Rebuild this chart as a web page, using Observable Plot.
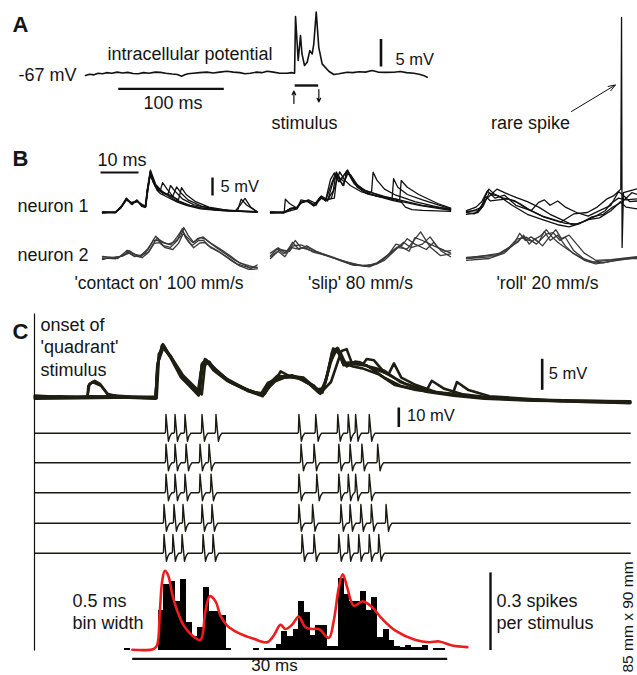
<!DOCTYPE html>
<html><head><meta charset="utf-8">
<script src="https://cdn.jsdelivr.net/npm/d3@7"></script>
<script src="https://cdn.jsdelivr.net/npm/@observablehq/plot@0.6"></script>
<style>body{margin:0;background:#fff}#chart svg{display:block;background:#fff}</style>
</head><body><div id="chart"></div>
<script>
// ================= DATA (ms, mV, spikes/stimulus) =================
const panelLetters = ["A", "B", "C"];
// Panel A: single intracellular trace [t ms, Vm mV]
const traceA = [0,-67.4, 4,-67.2, 8,-67.3, 12,-67.0, 16,-67.1, 20,-66.9, 25,-67.0, 30,-66.8, 35,-66.95, 40,-66.85, 45,-67.05, 50,-67.1, 55,-66.9, 60,-67.0, 66,-66.8, 71,-66.85, 76,-67.0, 82,-67.15, 87,-67.25, 91,-67.55, 94,-67.3, 97,-67.1, 102,-67.0, 108,-66.9, 115,-66.8, 121,-66.95, 127,-66.8, 134,-66.65, 140,-66.8, 146,-66.9, 151,-67.1, 156,-67.0, 162,-66.8, 167,-66.9, 172,-66.65, 178,-66.8, 184,-67.0, 191,-67.0, 195,-66.9, 198,-67.0, 198.9,-56.7, 201.4,-64.7, 203.6,-60.15, 205,-63.5, 207.4,-65.6, 209.9,-65, 212.4,-62.9, 214.7,-63.5, 216.2,-61.65, 218.5,-55.9, 220.9,-62.3, 224.1,-65.3, 230.4,-66.64, 235.1,-67.24, 240,-67.1, 247.8,-66.82, 253,-66.9, 259,-66.75, 265,-66.8, 271.5,-66.5, 277,-66.8, 284,-66.85, 292,-66.82, 298,-66.7, 304,-66.9, 310.9,-67.0, 316,-67.2, 320,-67.4, 323.6,-67.73];
const stimulusOnOffMs = [198.1, 220.3];

// Panel B: overlaid trials [t ms, dV mV]
const contactN1 = [
 [0,0, 3.4,0, 4.9,1.5, 6.3,3.8, 7.6,2.4, 9.1,3.3, 10.4,1.9, 11.3,1.5, 11.8,6.1, 12.6,11.5, 13.3,8.9, 14.4,6.1, 15.3,5.2, 17,4.3, 19.7,2.9, 22.3,1.9, 25.8,1.0, 30.2,0.6, 34.5,0.4, 40.7,0.1],
 [0,-0.2, 3.5,0.1, 5,1.8, 6.2,3.5, 7.5,2.8, 9.3,3.0, 10.5,2.2, 11.4,1.8, 11.9,6.5, 12.6,11.2, 13.3,8.5, 14.4,6.3, 15.2,6.0, 15.8,8.3, 17,6.5, 18.5,4.5, 20,3.2, 23,2, 27,1.1, 31,0.6, 35.5,0.4, 36.5,3.7, 38,2.0, 40.7,0.2],
 [0,0.1, 3.3,-0.1, 4.8,1.2, 6.4,3.6, 7.8,2.2, 9,3.5, 10.3,1.7, 11.2,1.4, 11.9,5.8, 12.6,10.8, 13.3,8.6, 14.4,6.5, 16,5.2, 17.2,5.0, 17.9,7.5, 19,6, 21,3.8, 24,2.2, 28,1.2, 33,0.5, 40.7,0.2],
 [0,0, 3.5,0.2, 5,1.6, 6.3,3.9, 7.7,2.5, 9.2,3.1, 10.4,2.0, 11.3,1.7, 11.8,6.3, 12.7,11, 14,7.5, 16,5.5, 18.5,4.5, 19.5,7.1, 20.6,5.5, 22.5,3.5, 26,1.8, 30,0.9, 35,0.5, 36.2,2, 37.5,3.9, 39,1.5, 40.7,0.2],
 [0,0.2, 3.4,0, 4.9,1.4, 6.2,3.7, 7.6,2.6, 9.1,3.4, 10.4,1.8, 11.4,1.6, 11.9,6.0, 12.5,10.5, 14,7.0, 17,5, 20,3.6, 20.8,6.9, 22,5.0, 24.5,3, 28,1.5, 33,0.6, 40.7,0.2],
 [0,0, 3.4,0.1, 4.9,1.7, 6.3,4.0, 7.6,2.3, 9.1,3.2, 10.4,2.0, 11.3,1.5, 11.7,6.0, 12.6,11.8, 14,7.8, 16,5.5, 19,3.5, 22,2.2, 26,1.2, 31,0.6, 40.7,0.1]
];
const contactN2 = [
 [0,0.2, 3.4,-0.1, 6.8,1.75, 8.2,0.8, 10,0.4, 11.8,2.2, 13.4,5, 14.7,5, 16,3.6, 17.9,3.1, 19.7,5, 21,8.3, 21.8,5.9, 23.6,3.6, 25.3,5, 26.6,5, 27.9,3.6, 30.2,2.2, 32.8,0.4, 35.4,-1.5, 38.1,-2.4, 40.7,-2.4],
 [0,-0.3, 2,0.3, 4,0, 6.5,2.3, 8,1.3, 10,0.8, 12,2.8, 13,4.5, 14,6.2, 15,5.2, 16.2,4.4, 18,3.8, 19.5,5.8, 20.8,7.8, 22,6.2, 23.8,4.4, 25,5.5, 26.5,6, 28,4.6, 30,3, 32.5,1.2, 35,-0.6, 37.5,-1.8, 39,-2.8, 40.7,-1.8],
 [0,0.6, 2.5,0.3, 5,0.6, 7,1.5, 8.5,0.5, 10.5,1, 12.2,1.8, 13.6,4.2, 15,4.4, 16.5,3, 18.5,2.5, 20,4.2, 21.3,7, 22.5,4.8, 24,3, 25.6,4.3, 27,4.4, 28.5,3, 31,1.6, 33.5,-0.3, 36,-2, 38.5,-3, 40.7,-2.9],
 [0,0, 3,0.2, 5.5,0.8, 7,2.2, 8.7,1.0, 10.4,0.2, 12,1.6, 13.2,3.8, 14.3,5.6, 15.6,4.5, 17.3,4, 19,4.6, 20.6,6.2, 21.4,8.6, 22.5,6.5, 24,4.5, 25.8,5.8, 27.2,5.3, 28.6,4.2, 31,2.6, 33.5,0.8, 36,-1.2, 38.5,-2, 40.7,-2.6]
];
const slipN1 = [
 [0,0, 3.5,0, 5.3,1.1, 7,1.4, 7.9,2.8, 9.7,3.3, 11.4,1.9, 13.2,4.3, 14.5,3.3, 16.2,8.4, 17.1,10.8, 18.4,8.9, 20.2,11.7, 21,10.3, 22.8,7, 25.4,5.2, 29.8,4.2, 34.2,3.1, 39.5,1.9, 47.4,0.6],
 [0,0.2, 3.5,0, 5.3,1.2, 7,1.2, 7.9,2.6, 9.7,3.4, 11.4,2.1, 13.2,4.2, 14.5,3.5, 16.8,4, 17.5,10.3, 18.5,8.5, 19.3,7.5, 20,11.5, 21,10.5, 23,7.5, 26,5.3, 26.6,5.8, 27,11.2, 28,9, 30,6.5, 33,4.8, 38,3, 43,1.8, 47.4,0.8],
 [0,-0.2, 3.5,0.1, 5.5,1, 7,1.5, 8,2.9, 9.7,3.1, 11.4,2, 13.2,4.4, 14.5,3.2, 16,4, 17.2,8, 18.2,11.3, 19.5,9, 21,7.5, 24,5.7, 28,4.5, 32,3.8, 32.4,9.4, 33.5,7, 36,5, 40,3.5, 47.4,1],
 [0,0, 3.5,-0.1, 5.3,1.1, 7,1.3, 7.9,2.7, 9.7,3.2, 11.4,1.8, 13.2,4.1, 14.5,3.4, 15.8,9.2, 16.8,11, 18,8.5, 20.3,11.8, 21.5,9, 24,6.5, 30,4.2, 34,3.5, 34.4,8.9, 36,7, 39,5, 44,2.5, 47.4,1.2],
 [0,0, 3.6,0, 3.9,3.7, 5,2.5, 7,1.2, 7.9,2.5, 10,3.5, 12,2.5, 13.5,4, 15,3.2, 16.6,9, 17.5,10.5, 19,7.5, 20.4,11, 22,8, 25,5.5, 29,4.3, 32,3.4, 34.5,2.8, 35.5,1.5, 37.2,0.8, 40,0.6, 47.4,0.3],
 [0,0.1, 3.5,0, 7,1, 8,3.5, 10,3, 12,2, 13.4,4.6, 15,3.5, 16.5,6, 17.3,11.3, 18.3,9.5, 19.5,8.5, 20,10.8, 21,10.5, 22.5,8, 25,6, 30,4.5, 35,3.2, 40,2, 47.4,0.9]
];
const slipN2 = [
 [0,0.8, 1.8,2.7, 3.5,1.3, 5.3,3.1, 7,2.7, 8.8,3.1, 11.4,1.7, 15,0.8, 18.4,-0.6, 22,-1.9, 25.4,-1.9, 28,-1.5, 30.7,0.8, 33.3,3.1, 36,2.7, 39.5,7.4, 42.1,3.1, 44.7,0.8, 47.4,1.3],
 [0,1.5, 2,3, 4,1.5, 5.8,4.5, 7.5,2.5, 9.5,3.5, 12,2, 16,0.5, 20,-1, 24,-2, 27,-1.8, 30,-0.5, 33,2.5, 35,4.5, 37,3, 40,4, 42,6, 44,3, 46,2, 47.4,2.2],
 [0,0, 2,2, 3.8,0.5, 5,2.5, 6.5,5, 8,3, 10,2.5, 13,1.5, 17,0, 21,-1.6, 25,-2.2, 28,-1.2, 31,1, 33,4, 34.5,3.5, 36,5.5, 38,4, 41,2.5, 43,4.5, 45,2, 47.4,0.5],
 [0,0.5, 2.5,2.5, 5,2, 6,3.5, 8,3.8, 11,2.5, 14,1, 18,-0.3, 22,-1.5, 26,-2.3, 29,-1, 32,2, 34,3.5, 36.5,2, 38,5.8, 40,5, 43,3.5, 47.4,1.5]
];
const rollN1 = [
 [0,0, 2,-0.4, 3.7,1, 5,4.7, 5.9,6.5, 7.2,5.2, 9,4.2, 12.6,3.3, 16,1, 20.4,-1.3, 24.7,-2.7, 28.2,-0.4, 31.8,0, 34.4,1.5, 37,3.8, 38.8,4.7, 40.6,6.5, 40.8,54.2, 40.95,-9.7, 41.3,5.5, 43.2,6.1, 45,6.6],
 [0,0.5, 2.5,1.5, 4,3, 5.5,6, 6.5,5, 8,6.5, 10,5.5, 13,4.2, 16,3, 19,1.5, 22,-0.5, 25,-2, 28,-3.5, 31,-2.5, 34,-1, 36.5,0.5, 38,2.5, 40,4, 42,3.5, 45,3.8],
 [0,-0.5, 3,0, 4.5,2, 6,5.5, 7.5,4, 10,4.8, 13,2, 17,0.5, 19,2.8, 20.5,3.5, 22,2, 24,3.2, 26,1.5, 29,0, 32,-1, 35,0.5, 38,2, 40,5.8, 41.5,4.5, 43,3, 45,3.2],
 [0,0, 2.5,0.8, 4.2,1.5, 5,4.5, 6.3,3.2, 8.5,3.5, 11,3.8, 14,2.5, 17,0.5, 20,-1, 23,-2, 26,-3, 29,-3.2, 32,-2, 35,-1.5, 38,0.5, 40.5,3, 42,1.5, 45,1],
 [0,0.3, 3,0.5, 5,3.5, 6.5,5, 8.5,4.6, 12,2, 16,-0.5, 20,-2, 24,-3.4, 27,-4, 30,-3, 33,-1.2, 36,-0.5, 38.5,1.5, 41,3, 43.5,5.5, 45,5]
];
const rollN2 = [
 [0,0, 7,0.5, 10.5,2.2, 13.2,5.4, 15.8,5.9, 18.4,4, 21,6.8, 22.8,7.2, 24.6,5, 26,5.9, 28.2,2.2, 30.8,0, 33.5,-1, 37,-0.5, 42.3,0, 45,0],
 [0,-0.5, 6,0, 10,1.5, 12.5,4, 14,7, 15.5,5, 17,6, 19,4.5, 20.5,7.5, 22,5, 24,6.5, 26,3.5, 28,1.5, 31,-0.5, 34,-1.5, 38,-0.8, 45,0.3],
 [0,0.3, 8,1, 11,3, 13.5,4.5, 15,6.5, 16.5,4, 18,5.5, 20,3.5, 21.5,5.5, 23.5,8, 25,5.5, 27,6.5, 29,4, 31,1.5, 34,-0.5, 38,-0.3, 45,0.5],
 [0,0, 9,1.5, 12,3.5, 14.5,5.8, 17,4.8, 19.5,6.3, 21,8, 22.5,6, 24,4.5, 26,3, 28.5,1.2, 32,-0.8, 36,-1.2, 40,-0.3, 45,0.2]
];
const stimulusLabels = ["'contact on' 100 mm/s", "'slip' 80 mm/s", "'roll' 20 mm/s"];

// Panel C: 'quadrant' stimulus, overlaid Vm trials [t ms from onset, dV mV]
const quadrantVm = [
 [-9.3,0, -7,0.2, -4.3,0, -4.2,1.9, -3.8,2.5, -3,1.9, -2.4,0.6, -1,0, 2.2,-0.2, 2.35,4.9, 2.8,8.4, 3.6,6.5, 4.6,3.3, 5.5,1.7, 6.3,0.3, 6.6,5.4, 7,6, 7.7,4.4, 9,2.7, 10.9,1.1, 12.4,0.2, 12.8,1.9, 13.8,3.5, 15,3.3, 16,3, 17.3,1.9, 17.9,0.6, 18.5,3.3, 19.2,7.6, 19.6,7.9, 20.1,5.2, 21.4,5.4, 22.3,5.2, 23.9,3.3, 25.5,1.9, 28.1,0.9, 30.6,0.3, 33.5,-0.2, 38.2,-0.5, 42,-0.6, 47.4,-0.8],
 [-9.3,0.3, -6,0, -2,0.2, 2.2,0, 2.4,5.5, 2.9,8.6, 3.8,6.0, 4.8,3, 5.8,1.5, 6.2,0.6, 6.5,4, 6.9,6.2, 7.6,5, 9.2,2.6, 11,1.2, 12.2,0.5, 12.9,2.4, 13.6,2.8, 14.1,4.2, 14.9,3.5, 16.3,3.2, 17.4,1.6, 18.1,0.8, 18.6,4, 19.1,7.9, 19.8,7.3, 20.4,5, 21.2,5.8, 22,5.5, 22.3,6.2, 23,6, 24,4, 26,2.2, 28,1.0, 31,0.4, 34,-0.1, 40,-0.5, 47.4,-0.6],
 [-9.3,-0.2, -5,-0.1, 0,0, 2.3,-0.1, 2.5,6, 3,8.3, 3.9,5.8, 5,2.8, 6.1,1, 6.6,0.5, 6.9,5.2, 7.3,5.8, 8,4.1, 9.5,2.3, 11.5,0.9, 12.6,0.6, 13.2,2.6, 14.3,3.3, 15.5,3.4, 16.6,2.6, 17.5,1.3, 18.2,1.5, 18.8,5.5, 19.4,7.6, 20.3,5.6, 21.6,5.7, 22.8,4.7, 24.4,3.8, 24.9,5.5, 25.6,3.2, 27,2, 29,0.8, 32,0.2, 36,-0.3, 43,-0.7, 47.4,-0.8],
 [-9.3,0, -4,0.2, 2.2,0, 2.5,7, 2.9,8.1, 3.7,6.5, 4.8,3.6, 6,1.6, 6.4,0.8, 6.7,5.6, 7.1,5.9, 7.9,4.6, 9.3,2.5, 11.2,1, 12.5,0.4, 13,1.6, 13.7,3.2, 15.2,3.6, 16.2,2.8, 17.5,1.5, 18,0.9, 18.9,2.5, 19.9,7.5, 20.4,7.8, 20.9,5.5, 22,5.2, 23,4.8, 24,4.3, 25.5,2.5, 28,1.1, 28.5,2.7, 29.7,1.4, 31.5,0.5, 35,-0.2, 40,-0.4, 47.4,-0.7],
 [-9.3,0.2, -4.3,0, -4.1,2.2, -3.6,2.7, -3.1,2.2, -2.3,0.4, 0,0.1, 2.2,0.1, 2.4,5.3, 2.8,8.2, 3.6,6.8, 4.6,3.5, 5.6,1.9, 6.3,0.5, 6.6,5.2, 7.0,6.1, 7.7,4.6, 9,3, 11,1.2, 12.4,0.5, 12.9,1.5, 13.6,2.6, 14.5,3.2, 15.6,3.3, 16.8,2.2, 17.8,0.7, 18.4,2.5, 19,7.3, 19.5,8, 20,5.6, 21,5.0, 21.9,4.7, 23.5,3.7, 25,2.0, 27,1.2, 30.5,0.6, 30.9,2.5, 32,1.2, 34,0.2, 40,-0.5, 47.4,-0.9]
];
const recordingWindowMs = [-9.3, 47.4];
// extracellular spike waveform [dt ms, mV] and spike times per trial (ms)
const spikeWaveform = [-0.08,0, 0,0.5, 0.05,9.6, 0.22,-0.5, 0.28,-4.1, 0.42,-1.6, 0.6,0];
const spikeTimes = [
 [3.14, 4.0, 4.95, 6.57, 7.9, 15.8, 17.4, 19.5, 20.5, 21.2, 22.5],
 [3.14, 4.0, 5.05, 6.38, 7.24, 16.0, 17.24, 19.6, 20.67, 21.8, 23.3],
 [3.14, 4.0, 4.95, 6.38, 7.43, 15.8, 17.5, 19.6, 20.5, 21.2, 22.5],
 [2.95, 3.9, 4.76, 6.57, 7.52, 15.8, 17.1, 19.8, 20.67, 21.7, 22.7, 24.1],
 [2.95, 3.8, 4.67, 6.67, 7.62, 16.1, 17.24, 19.6, 20.5, 21.5, 22.5, 23.4]
];
// PSTH: 0.5 ms bins starting at -0.5 ms (spikes per stimulus)
const psthStartMs = -0.5, psthBinMs = 0.5;
const psthCounts = [0.006, 0,0,0,0,0, 0.155,0.255,0.265,0.19,0.275,0.11,0.055,0.087,0.243,0.15,0.15,0.135,0.006,0,0,0,0,0.006,0,0.006,0.006,0.023,0.073,0.055,0.081,0.19,0.147,0.058,0.097,0.097,0.016,0.016,0.28,0.217,0.19,0.19,0.228,0.155,0.205,0.05,0.082,0.04,0.016,0.013,0.02,0.01,0.01,0.02,0,0.006,0.006];
const psthSmooth = [0.2,0.003, 2.1,0.006, 2.4,0.02, 2.65,0.154, 2.86,0.27, 3.09,0.308, 3.39,0.29, 3.75,0.218, 4.19,0.154, 4.78,0.096, 5.52,0.058, 6.26,0.041, 6.71,0.154, 7.09,0.21, 7.6,0.19, 8.04,0.135, 8.64,0.096, 9.53,0.07, 11,0.045, 12.2,0.032, 12.78,0.058, 13.38,0.099, 13.83,0.083, 14.42,0.1, 15.0,0.131, 15.6,0.09, 16.2,0.083, 16.79,0.083, 17.68,0.049, 18.12,0.115, 18.57,0.243, 18.92,0.295, 19.32,0.243, 19.9,0.173, 20.7,0.19, 21.54,0.167, 22.43,0.122, 23.6,0.077, 25.4,0.041, 26.6,0.032, 27.5,0.035, 28.66,0.019, 30,0.013];

// scale bar values
const scaleA = {ms:100, mV:5}, scaleB = {ms:10, mV:5}, scaleC = {ms:30, mV:5, spikeMV:10, rate:0.3};

// ================= LAYOUT =================
const W = 637, H = 675;
const FONT = "'Liberation Sans', Arial, Helvetica, sans-serif";
const fA = {x0:85, px:1.056, y0:72.7, py:5.5, ref:-67};
const fB = (x0, y0) => ({x0, px:3.8, y0, py:3.6, ref:0});
const fC = {x0:132, px:10.5, y0:397, py:6.2, ref:0};
const fS = y0 => ({x0:132, px:10.5, y0, py:1.95, ref:0});
const fH = {x0:129.6, px:11.24, y0:650, py:258.7, ref:0};
const X = (f,t) => f.x0 + f.px*t, Y = (f,v) => f.y0 - f.py*(v - f.ref);
function pairs(a){const o=[];for(let i=0;i<a.length;i+=2)o.push([a[i],a[i+1]]);return o;}
function place(arr, f, id){return (Array.isArray(arr[0])?arr:pairs(arr)).map(([t,v])=>({x:X(f,t), y:Y(f,v), id}));}

const lineA = place(traceA, fA, "A");
const group = (trials, f, tag) => trials.flatMap((tr,i)=>place(tr, f, tag+i));
const bN1 = [...group(contactN1, fB(102,212), "c1"), ...group(slipN1, fB(270,212), "s1"), ...group(rollN1, fB(466,212), "r1")];
const bN2 = [...group(contactN2, fB(102,258), "c2"), ...group(slipN2, fB(270,258), "s2"), ...group(rollN2, fB(466,258), "r2")];
const cVm = group(quadrantVm, fC, "q");
const wf = pairs(spikeWaveform);
const rowY = [432.7, 462.3, 492.3, 522.7, 552.7];
const cSpk = spikeTimes.flatMap((times, r) => {
  const pts = [[recordingWindowMs[0],0]];
  for (const s of times) for (const [dt,v] of wf) pts.push([s+dt, v]);
  pts.push([recordingWindowMs[1],0]);
  return place(pts, fS(rowY[r]), "sp"+r);
});
const bars = psthCounts.map((c,i)=>{const t=psthStartMs+i*psthBinMs;return {x1:X(fH,t), x2:X(fH,t+psthBinMs)+0.4, y1:fH.y0, y2:Y(fH,c)};}).filter(d=>d.y1-d.y2>0.1);
const redLine = place(psthSmooth, fH, "psth");

// scale bars
const segs = [
  {x1:117.7, x2:117.7+scaleA.ms*fA.px, y1:88.3, y2:88.3, w:2.2},
  {x1:380.5, x2:380.5, y1:66, y2:66-scaleA.mV*fA.py, w:2.6},
  {x1:X(fA,stimulusOnOffMs[0]), x2:X(fA,stimulusOnOffMs[1]), y1:85, y2:85, w:2.4},
  {x1:100, x2:100+scaleB.ms*3.8, y1:172, y2:172, w:2.2},
  {x1:212, x2:212, y1:195, y2:195-scaleB.mV*3.6, w:2.4},
  {x1:541.7, x2:541.7, y1:389.3, y2:389.3-scaleC.mV*fC.py, w:2.6},
  {x1:398.3, x2:398.3, y1:426.5, y2:426.5-scaleC.spikeMV*1.95, w:2.6},
  {x1:131.7, x2:131.7+scaleC.ms*fC.px, y1:658.3, y2:658.3, w:2.2},
  {x1:490, x2:490, y1:649.5, y2:649.5-scaleC.rate*fH.py, w:2.4},
  {x1:34, x2:34, y1:313, y2:650, w:1.2}
];
const arrows = [
  {x1:X(fA,stimulusOnOffMs[0])-0.8, y1:103, x2:X(fA,stimulusOnOffMs[0])-0.8, y2:90.5},
  {x1:X(fA,stimulusOnOffMs[1])+0.7, y1:89, x2:X(fA,stimulusOnOffMs[1])+0.7, y2:101.5}
];
const spikeArrow = [{x1:571, y1:111, x2:X(fB(466,212),40.75)-6, y2:84.5}];

const txt18 = [
  {x:107, y:59, t:"intracellular potential", a:"start"},
  {x:18, y:80, t:"-67 mV", a:"start"},
  {x:172.5, y:108, t:"100 ms", a:"middle"},
  {x:304, y:128, t:"stimulus", a:"middle"},
  {x:530, y:128, t:"rare spike", a:"middle"},
  {x:97, y:165, t:"10 ms", a:"start"},
  {x:17, y:211, t:"neuron 1", a:"start"},
  {x:17, y:260.5, t:"neuron 2", a:"start"},
  {x:72, y:606.7, t:"0.5 ms", a:"start"},
  {x:72, y:628, t:"bin width", a:"start"},
  {x:496, y:606.7, t:"0.3 spikes", a:"start"},
  {x:496, y:628, t:"per stimulus", a:"start"}
];
const txt17 = [
  {x:395, y:64, t:"5 mV"}, {x:220, y:191.7, t:"5 mV"}, {x:548.3, y:378.3, t:"5 mV"}, {x:406.5, y:420.7, t:"10 mV"}
];
const captions = stimulusLabels.map((t,i)=>({x:[158.5, 360, 547][i], y:288, t}));
const letters = panelLetters.map((t,i)=>({x:12, y:[31.5, 165, 338.5][i], t}));

const T = (data, o) => Plot.text(data, {x:"x", y:"y", text:"t", fontFamily:FONT, fill:"#151515", lineAnchor:"bottom", ...o});

const chart = Plot.plot({
  width: W, height: H, margin: 0,
  x: {domain:[0,W], range:[0,W], axis:null},
  y: {domain:[0,H], range:[0,H], axis:null},
  style: {background:"#fff", fontFamily: FONT},
  marks: [
    Plot.rect(bars, {x1:"x1", x2:"x2", y1:"y1", y2:"y2", fill:"#000", inset:0, shapeRendering:"crispEdges"}),
    Plot.line(redLine, {x:"x", y:"y", z:"id", stroke:"#ee1c1c", strokeWidth:2.6, curve:"catmull-rom"}),
    Plot.line(lineA, {x:"x", y:"y", z:"id", stroke:"#111", strokeWidth:1.6, strokeLinejoin:"round"}),
    Plot.line(bN2, {x:"x", y:"y", z:"id", stroke:"#3a3a3a", strokeWidth:1.3, strokeLinejoin:"round"}),
    Plot.line(bN1, {x:"x", y:"y", z:"id", stroke:"#111", strokeWidth:1.3, strokeLinejoin:"round"}),
    Plot.line(cVm, {x:"x", y:"y", z:"id", stroke:"#1e1e12", strokeWidth:2.6, strokeLinejoin:"round"}),
    Plot.line(cSpk, {x:"x", y:"y", z:"id", stroke:"#1a1a12", strokeWidth:1.4, strokeLinejoin:"round"}),
    Plot.link(segs, {x1:"x1", x2:"x2", y1:"y1", y2:"y2", stroke:"#111", strokeWidth:d=>d.w}),
    Plot.arrow(arrows, {x1:"x1", y1:"y1", x2:"x2", y2:"y2", stroke:"#111", strokeWidth:1.2, headLength:6, headAngle:50}),
    Plot.arrow(spikeArrow, {x1:"x1", y1:"y1", x2:"x2", y2:"y2", stroke:"#111", strokeWidth:1, headLength:11, headAngle:40}),
    T(txt18, {fontSize:18, textAnchor:"start", filter:d=>d.a==="start"}),
    T(txt18, {fontSize:18, textAnchor:"middle", filter:d=>d.a==="middle"}),
    T([{x:274, y:670.5, t:"30 ms"}], {fontSize:17, textAnchor:"middle"}),
    T(txt17, {fontSize:16.5, textAnchor:"start"}),
    T(captions, {fontSize:17.5, textAnchor:"middle"}),
    T(letters, {fontSize:22, fontWeight:"bold", textAnchor:"start"}),
    T([{x:40, y:375, t:"onset of\n'quadrant'\nstimulus"}], {fontSize:18, textAnchor:"start", lineHeight:1.25}),
    T([{x:632.5, y:672, t:"85 mm x 90 mm"}], {fontSize:15.5, textAnchor:"start", rotate:-90})
  ]
});
document.getElementById("chart").appendChild(chart);
</script>
</body></html>
